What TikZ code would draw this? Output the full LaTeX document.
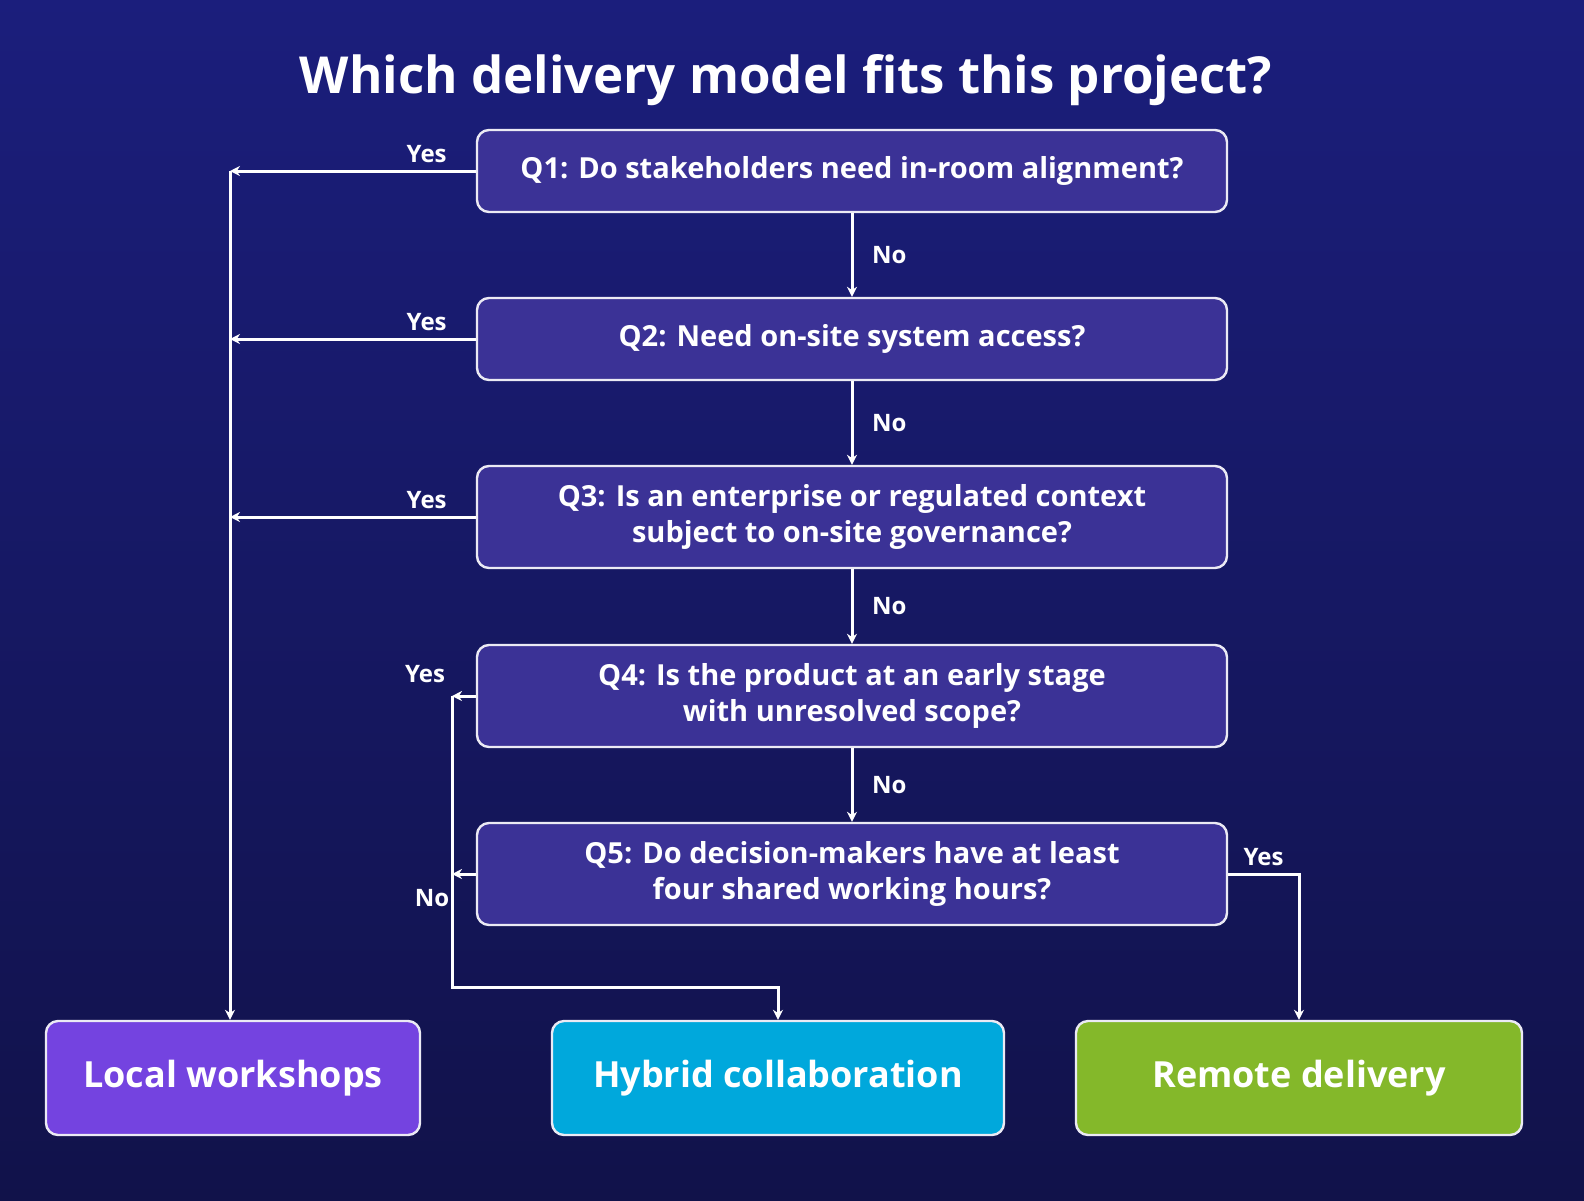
\documentclass[tikz,border=0pt]{standalone}
\usepackage{fontspec}
\setmainfont{Open Sans}
\usetikzlibrary{arrows.meta}
\definecolor{bgtop}{HTML}{1B1E7C}
\definecolor{bgbot}{HTML}{11124A}
\definecolor{qfill}{HTML}{3B3296}
\definecolor{localc}{HTML}{7443E0}
\definecolor{hybridc}{HTML}{00A8DC}
\definecolor{remotec}{HTML}{84B82A}
\tikzset{
  qbox/.style={draw=white!90!qfill, line width=1.2pt, fill=qfill, rounded corners=6pt,
    text=white, font=\bfseries\fontsize{14.5}{18}\selectfont, align=center},
  outbox/.style={draw=white!90!qfill, line width=1.2pt, rounded corners=6pt,
    text=white, font=\bfseries\fontsize{18}{22}\selectfont},
  conn/.style={draw=white, line width=1.5pt, -{Stealth[length=5pt,width=5pt]}},
  lbl/.style={text=white, font=\bfseries\fontsize{12}{14}\selectfont}
}
\begin{document}
\begin{tikzpicture}[x=0.5pt,y=-0.5pt]
\shade[top color=bgtop, bottom color=bgbot] (0,0) rectangle (1584,1200);
\useasboundingbox (0,0) rectangle (1584,1200);
\node[text=white, font=\bfseries\fontsize{25.5}{30}\selectfont] (title) at (786,80) {Which delivery model fits this project?};
% questions
\node[qbox, minimum width=375pt, minimum height=41pt] (q1) at (852,171) {\raisebox{-4pt}{Q1: Do stakeholders need in-room alignment?}};
\node[qbox, minimum width=375pt, minimum height=41pt] (q2) at (852,339) {\raisebox{-4pt}{Q2: Need on-site system access?}};
\node[qbox, minimum width=375pt, minimum height=51pt] (q3) at (852,517) {Q3: Is an enterprise or regulated context\\subject to on-site governance?};
\node[qbox, minimum width=375pt, minimum height=51pt] (q4) at (852,696) {Q4: Is the product at an early stage\\with unresolved scope?};
\node[qbox, minimum width=375pt, minimum height=51pt] (q5) at (852,874) {Q5: Do decision-makers have at least\\four shared working hours?};
% outcomes
\node[outbox, fill=localc, minimum width=187pt, minimum height=57pt] (local) at (233,1078) {\raisebox{-3pt}{Local workshops}};
\node[outbox, fill=hybridc, minimum width=226pt, minimum height=57pt] (hybrid) at (778,1078) {\raisebox{-3pt}{Hybrid collaboration}};
\node[outbox, fill=remotec, minimum width=223pt, minimum height=57pt] (remote) at (1299,1078) {\raisebox{-3pt}{Remote delivery}};
% junction points
\coordinate (t1) at (230,171);
\coordinate (t2) at (230,339);
\coordinate (t3) at (230,517);
\coordinate (h4) at (452,696);
\coordinate (h5) at (452,874);
\coordinate (hb) at (452,987);
% no chain
\draw[conn] (q1) -- node[lbl, right=6pt] {No} (q2);
\draw[conn] (q2) -- node[lbl, right=6pt] {No} (q3);
\draw[conn] (q3) -- node[lbl, right=6pt] {No} (q4);
\draw[conn] (q4) -- node[lbl, right=6pt] {No} (q5);
% yes to local
\draw[conn] (q1.west) -- node[lbl, pos=0.2, above] {Yes} (t1);
\draw[conn] (q2.west) -- node[lbl, pos=0.2, above] {Yes} (t2);
\draw[conn] (q3.west) -- node[lbl, pos=0.2, above] {Yes} (t3);
\draw[conn] (t1) -- (local.north -| t1);
% hybrid
\draw[conn] (q4.west) -- (h4);
\node[lbl, anchor=south east] at ([yshift=3pt]h4) {Yes};
\draw[conn] (q5.west) -- (h5);
\node[lbl, anchor=north] at ([yshift=-4pt,xshift=-10pt]h5) {No};
\draw[conn] (h4) -- (hb) -| (hybrid.north);
% remote
\draw[conn] (q5.east) -| node[lbl, pos=0.25, above] {Yes} (remote.north);
\end{tikzpicture}
\end{document}
